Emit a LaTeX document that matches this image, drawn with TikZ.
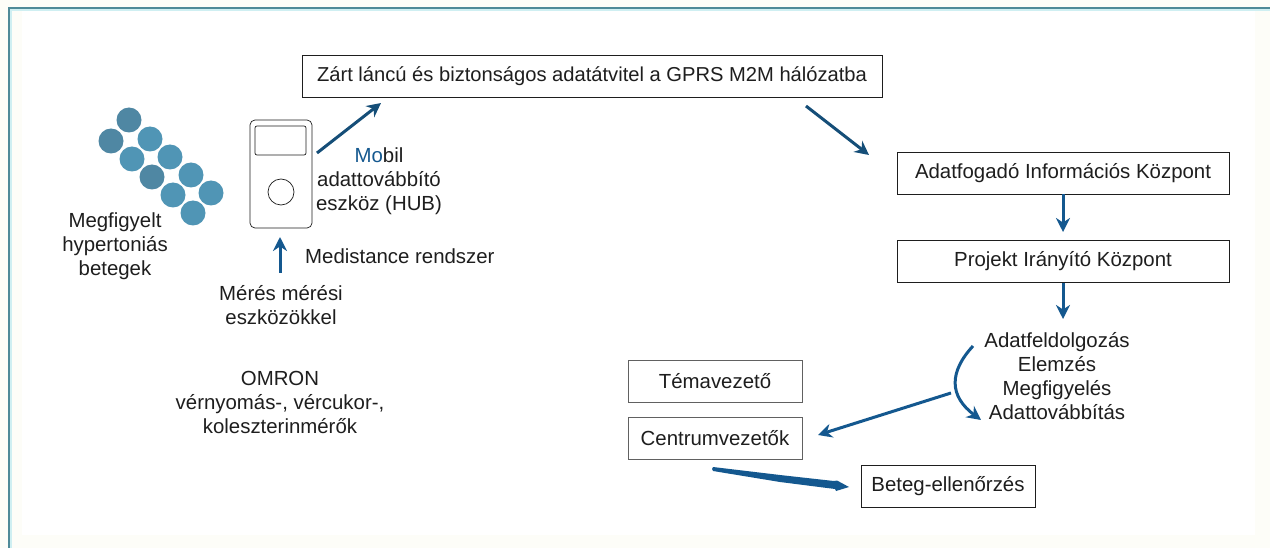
\documentclass[tikz,border=0pt]{standalone}
\usepackage{fontspec}
\setmainfont{Liberation Sans}
\usetikzlibrary{arrows.meta}
\definecolor{arrowblue}{HTML}{14588F}
\definecolor{darkarrow}{HTML}{154E78}
\definecolor{frameteal}{HTML}{4F8A98}
\definecolor{framehalo}{HTML}{CFEFF2}
\definecolor{dotA}{HTML}{4F87A3}
\definecolor{dotB}{HTML}{5095B5}
\definecolor{cream}{HTML}{FDFDF8}
\definecolor{ink}{HTML}{1E1E1E}
\tikzset{
  x=1pt,y=-1pt,
  every node/.style={font=\fontsize{20.4}{24}\selectfont,text=ink,align=center,inner sep=0pt},
  labelbox/.style={draw=ink,line width=0.9pt,fill=white,minimum height=42pt,anchor=center},
  softbox/.style={labelbox,draw=ink!70,line width=1pt},
  dot/.style={circle,fill=#1,minimum size=25pt},
  flow/.style={draw=arrowblue,line width=3pt,-{Stealth[length=14pt,width=14pt]}},
  flowdark/.style={draw=darkarrow,line width=3pt,-{Stealth[length=14pt,width=14pt]}},
  hub/.style={draw=ink,line width=0.7pt}
}
\begin{document}
\begin{tikzpicture}
\useasboundingbox (0,0) rectangle (1270,548);
\fill[cream] (0,0) rectangle (1270,548);
\fill[white] (22,10) rectangle (1255,535);
\draw[framehalo,line width=3.5pt] (10,548) -- (10,9) -- (1270,9);
\draw[frameteal,line width=1.4pt] (9,548) -- (9,8) -- (1270,8);

% patients
\node[dot=dotA] (p1) at (129,120) {};
\node[dot=dotA] (p2) at (111,141) {};
\node[dot=dotB] (p3) at (150,139) {};
\node[dot=dotB] (p4) at (132,159) {};
\node[dot=dotB] (p5) at (170,157) {};
\node[dot=dotA] (p6) at (152,177) {};
\node[dot=dotB] (p7) at (191,175) {};
\node[dot=dotB] (p8) at (173,195) {};
\node[dot=dotB] (p9) at (211,193) {};
\node[dot=dotB] (p10) at (193,213) {};

% hub device
\node[hub,rounded corners=5pt,minimum width=62pt,minimum height=108pt] (hub) at (281,174) {};
\node[hub,rounded corners=2pt,minimum width=51pt,minimum height=29pt] (screen) at (280.5,140.5) {};
\node[hub,circle,minimum size=26pt] (knob) at (281,192) {};

% text
\node (t1) at (115,246) {Megfigyelt\\hypertoniás\\betegek};
\node (t2) at (379,181) {\textcolor{arrowblue}{Mo}bil\\adattovábbító\\eszköz (HUB)};
\node[anchor=west] (t3) at (305,256) {Medistance rendszer};
\node (t4) at (281,305) {Mérés mérési\\eszközökkel};
\node (t5) at (280,402) {OMRON\\vérnyomás-, vércukor-,\\koleszterinmérők};
\node (t6) at (1057,376.5) {Adatfeldolgozás\\Elemzés\\Megfigyelés\\Adattovábbítás};

% boxes
\node[labelbox,minimum width=580pt,font=\fontsize{20.15}{24}\selectfont] (b1) at (592,76) {Zárt láncú és biztonságos adatátvitel a GPRS M2M hálózatba};
\node[labelbox,minimum width=332pt] (b2) at (1063,173) {Adatfogadó Információs Központ};
\node[labelbox,minimum width=332pt] (b3) at (1063,261.5) {Projekt Irányító Központ};
\node[softbox,minimum width=174pt] (b4) at (715,381.5) {Témavezető};
\node[softbox,minimum width=174pt] (b5) at (715,438) {Centrumvezetők};
\node[labelbox,minimum width=174pt] (b6) at (948,486) {Beteg-ellenőrzés};

% connector ends
\coordinate (a1s) at (317,153);
\coordinate (a1e) at (381,103);
\coordinate (a2s) at (806,106);
\coordinate (a2e) at (869,155);
\coordinate (a3s) at (280,273);
\coordinate (a3e) at (280,237);
\coordinate (c1s) at (973,346);
\coordinate (c1e) at (981,420);
\coordinate (a4s) at (951,393);
\coordinate (a4e) at (818,435);
\coordinate (a5s) at (712,469);
\coordinate (a5e) at (849,487);
\coordinate (a6e) at (1063,232);
\coordinate (a7e) at (1063,319);

\draw[flowdark] (a1s) -- (a1e);
\draw[flowdark] (a2s) -- (a2e);
\draw[flow] (a3s) -- (a3e);
\draw[flow] (b2.south -| a6e) -- (a6e);
\draw[flow] (b3.south -| a7e) -- (a7e);
\draw[flow] (c1s) .. controls (949,372) and (949,396) .. (c1e);
\draw[flow] (a4s) -- (a4e);
\fill[arrowblue] (713,467) -- (a5s) -- (713,471) -- (780,482) -- (835,489) -- (836,491) -- (a5e) -- (837,480.5) -- (834,481) -- (780,475) -- cycle;
\end{tikzpicture}
\end{document}
